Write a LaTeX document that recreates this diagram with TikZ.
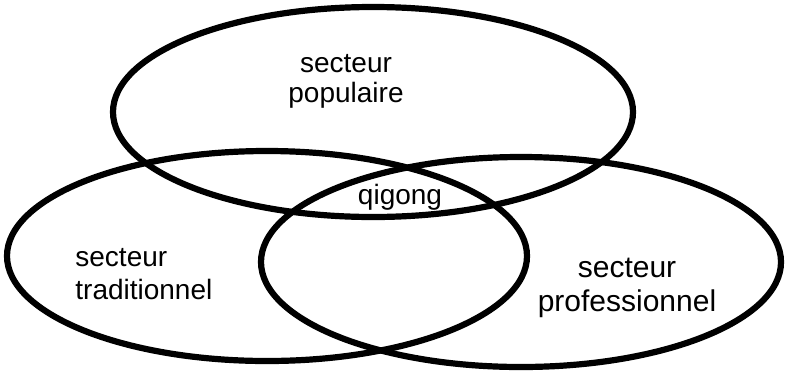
\documentclass[tikz,border=0pt]{standalone}
\usepackage{fontspec}
\setmainfont{Liberation Sans}
\usetikzlibrary{shapes.geometric}
\begin{document}
\begin{tikzpicture}[x=0.5pt,y=-0.5pt,
  sector/.style={ellipse,draw,line width=3.1pt,minimum width=260pt,
                 minimum height=105pt,inner sep=0pt},
  tag/.style={align=center,inner sep=0pt},
  wide/.style={font=\fontsize{14}{16.5}\selectfont},
  every node/.style={font=\fontsize{14}{15}\selectfont}]
\path[use as bounding box] (0,0) rectangle (785,370);
\node[sector] (populaire) at (373,112) {};
\node[sector] (traditionnel) at (267,256) {};
\node[sector] (professionnel) at (521,262) {};
\node[tag] (popText) at (346,81) {secteur\\populaire};
\node[tag,wide,align=left,anchor=west] (tradText) at (75,274)
  {secteur\\traditionnel};
\node[tag,wide,font=\fontsize{15}{17}\selectfont] (profText) at (627,288)
  {secteur\\professionnel};
\node[tag,anchor=base] (qigong) at (400,204) {qigong};
\end{tikzpicture}
\end{document}
